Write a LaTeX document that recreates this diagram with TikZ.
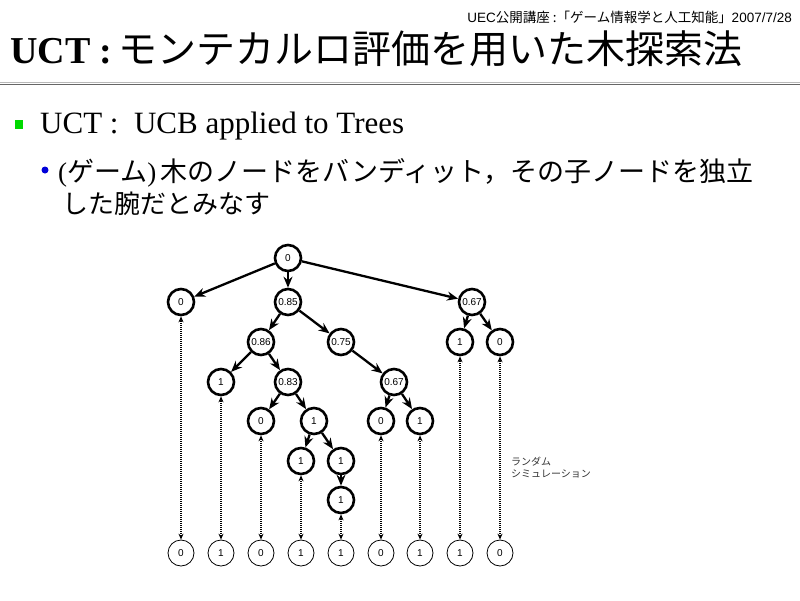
\documentclass[tikz,border=0pt]{standalone}
\usepackage{fontspec}
\setmainfont{Liberation Serif}
\newfontfamily\jpfont{Noto Sans CJK JP}
\newfontfamily\hdfont{Liberation Sans}
\usetikzlibrary{arrows.meta}

\begin{document}
\begin{tikzpicture}[x=1pt, y=-1pt,
  tnode/.style={circle, draw, line width=2.6pt, minimum size=26pt, inner sep=0pt, font=\hdfont\fontsize{10}{10}\selectfont},
  snode/.style={tnode, line width=0.8pt},
  tedge/.style={line width=2.3pt, -{Stealth[length=11pt,width=9pt]}},
  simedge/.style={line width=1.3pt, dash pattern=on 1pt off 1pt, {Stealth[length=6pt,width=5pt]}-{Stealth[length=6pt,width=5pt]}}]
\useasboundingbox (0,0) rectangle (800,600);
% header and title
\node[anchor=base east, inner sep=0pt, font=\hdfont\fontsize{13.5}{13.5}\selectfont] (hdr) at (792,22) {UEC{\jpfont 公開講座 :「ゲーム情報学と人工知能」}2007/7/28};
\node[anchor=base west, inner sep=0pt] (title) at (10,63) {\fontsize{38}{38}\selectfont\bfseries UCT :\,{\mdseries\jpfont\fontsize{39}{39}\selectfont モンテカルロ評価を用いた木探索法}};
\draw[line width=1.2pt, gray!55] (0,82.5) -- (800,82.5);
\draw[line width=1.5pt, gray!80!black] (0,84.5) -- (800,84.5);
% bullets
\fill[green!85!black] (15,120) rectangle (23,129);
\node[anchor=base west, inner sep=0pt, font=\fontsize{31}{31}\selectfont] (b1) at (40,133) {UCT : \ UCB applied to Trees};
\fill[blue!85!black] (45,170) circle (3.5);
\node[anchor=base west, inner sep=0pt, font=\fontsize{27}{27}\selectfont] (b2) at (58,181) {(\/{\jpfont ゲーム})\,{\jpfont 木のノードをバンディット，その子ノードを独立}};
\node[anchor=base west, inner sep=0pt, font=\jpfont\fontsize{26}{26}\selectfont] (b3) at (62,213) {した腕だとみなす};
% tree
\node[tnode] (r) at (288,258) {0};
\node[tnode] (a) at (181,302) {0};
\node[tnode] (b) at (288,302) {0.85};
\node[tnode] (c) at (472,302) {0.67};
\node[tnode] (ba) at (261,342) {0.86};
\node[tnode] (bb) at (341,342) {0.75};
\node[tnode] (ca) at (460,342) {1};
\node[tnode] (cb) at (500,342) {0};
\node[tnode] (baa) at (221,382) {1};
\node[tnode] (bab) at (288,382) {0.83};
\node[tnode] (bba) at (394,382) {0.67};
\node[tnode] (baba) at (261,421) {0};
\node[tnode] (babb) at (314,421) {1};
\node[tnode] (bbaa) at (381,421) {0};
\node[tnode] (bbab) at (420,421) {1};
\node[tnode] (babba) at (301,461) {1};
\node[tnode] (babbb) at (341,461) {1};
\node[tnode] (babbba) at (341,500) {1};
\foreach \p/\q in {r/a, r/b, r/c, b/ba, b/bb, c/ca, c/cb, ba/baa, ba/bab, bb/bba,
    bab/baba, bab/babb, bba/bbaa, bba/bbab, babb/babba, babb/babbb, babbb/babbba}
  \draw[tedge] (\p) -- (\q);
% random simulations
\foreach \x/\v/\t [count=\i] in {181/0/a, 221/1/baa, 261/0/baba, 301/1/babba, 341/1/babbba,
    381/0/bbaa, 420/1/bbab, 460/1/ca, 500/0/cb} {
  \node[snode] (s\i) at (\x,553) {\v};
  \draw[simedge] (s\i) -- (\t);
}
\node[anchor=west, align=left, inner sep=0pt, font=\jpfont\fontsize{10}{12}\selectfont, text=black!80] (sim) at (511,468) {ランダム\\シミュレーション};
\end{tikzpicture}
\end{document}
